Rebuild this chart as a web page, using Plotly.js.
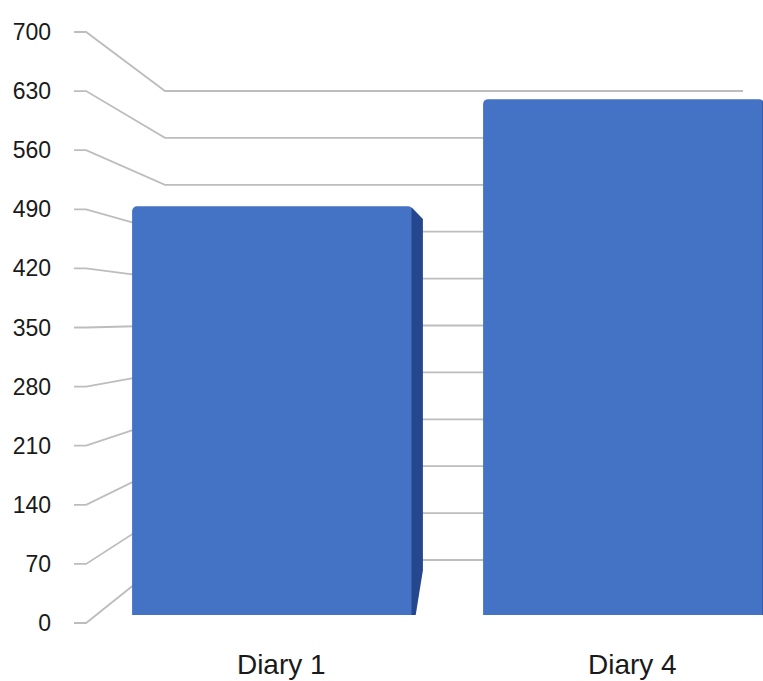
<!DOCTYPE html>
<html>
<head>
<meta charset="utf-8">
<script src="https://cdn.plot.ly/plotly-3.0.1.min.js"></script>
<style>html,body{margin:0;padding:0;background:#fff;}#chart{width:763px;height:681px;}</style>
</head>
<body>
<div id="chart"></div>
<script>
// ---- data ----
const categories = ["Diary 1", "Diary 4"];
const values = [484, 611];
const tickValues = [0, 70, 140, 210, 280, 350, 420, 490, 560, 630, 700];
const tickLabels = ["0", "70", "140", "210", "280", "350", "420", "490", "560", "630", "700"];

// ---- styling / geometry (category units on x, value units on y) ----
const barColor = "#4472C4";
const sideColor = "#25478E";
const gridColor = "#BDBDBD";
const barWidth = 0.80;
const xRange = [-0.5655, 1.3974];
const yFrontRange = [-9.475, 737.89];
const yBarRange = [-18.95, 728.41];
// perspective grid: front stub -> diagonal -> back plane line
const gx = [-0.5655, -0.531, -0.3063, 1.3405];
const backOffset = 74.6, backScale = 0.7936;
const sideDepth = 0.0285, sideDrop = 15, sideLow = 53, sideFoot = 0.008;
const labelShift = 0.025;

const traces = [];
// gridlines (lower subplot)
tickValues.forEach(v => {
  const b = backOffset + backScale * v;
  traces.push({
    type: "scatter", mode: "lines", xaxis: "x", yaxis: "y",
    x: gx, y: [v, v, b, b],
    line: {color: gridColor, width: 1.8},
    hoverinfo: "skip", showlegend: false
  });
});
// bars (overlay subplot)
const xs = categories.map((c, i) => i);
traces.push({
  type: "bar", xaxis: "x2", yaxis: "y2",
  x: xs, y: values, width: barWidth,
  marker: {color: barColor, cornerradius: 5, line: {width: 0}},
  showlegend: false, hoverinfo: "x+y"
});
// side faces
values.forEach((v, i) => {
  const xr = i + barWidth / 2;
  traces.push({
    type: "scatter", mode: "lines", xaxis: "x2", yaxis: "y2",
    x: [xr - 0.004, xr + sideDepth, xr + sideDepth, xr + sideFoot, xr - 0.004, xr - 0.004],
    y: [v - 1, v - sideDrop, sideLow, 0, 0, v - 1],
    fill: "toself", fillcolor: sideColor,
    line: {width: 0, color: sideColor},
    hoverinfo: "skip", showlegend: false
  });
});

const layout = {
  width: 763, height: 681,
  margin: {l: 74, r: 0, t: 0, b: 50},
  paper_bgcolor: "#fff", plot_bgcolor: "#fff",
  font: {family: "Liberation Sans, Arial, sans-serif", color: "#222"},
  showlegend: false,
  xaxis: {
    range: xRange, showgrid: false, zeroline: false, showline: false,
    tickvals: xs.map(i => i + labelShift), ticktext: categories,
    ticks: "", tickfont: {size: 28, color: "#1a1a1a"}, ticklabelstandoff: 14
  },
  yaxis: {
    range: yFrontRange, showgrid: false, zeroline: false, showline: false,
    tickvals: tickValues, ticktext: tickLabels,
    ticks: "", tickfont: {size: 23, color: "#1a1a1a"}, ticklabelstandoff: 22
  },
  xaxis2: {overlaying: "x", matches: "x", range: xRange, visible: false},
  yaxis2: {overlaying: "y", range: yBarRange, visible: false}
};

Plotly.newPlot("chart", traces, layout, {displayModeBar: false, staticPlot: true});
</script>
</body>
</html>
